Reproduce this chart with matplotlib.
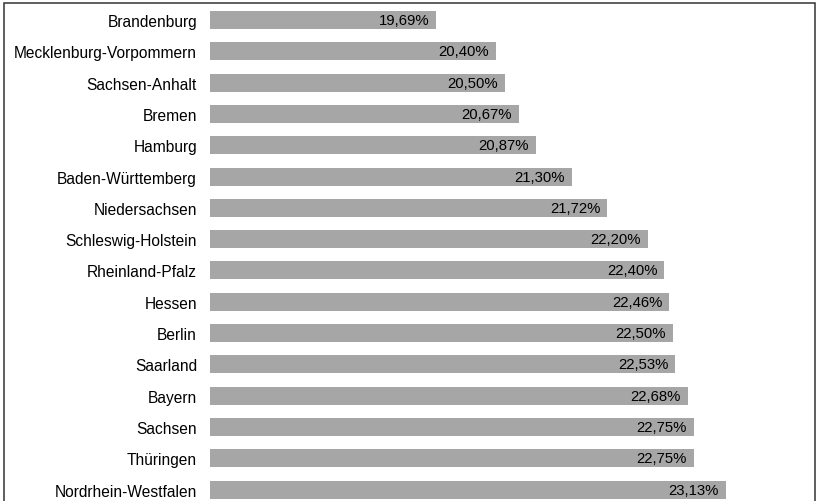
import matplotlib.pyplot as plt
from matplotlib.patches import Rectangle

# share per federal state, sorted ascending
states = ["Brandenburg", "Mecklenburg-Vorpommern", "Sachsen-Anhalt", "Bremen",
          "Hamburg", "Baden-Württemberg", "Niedersachsen", "Schleswig-Holstein",
          "Rheinland-Pfalz", "Hessen", "Berlin", "Saarland", "Bayern",
          "Sachsen", "Thüringen", "Nordrhein-Westfalen"]
values = [19.69, 20.40, 20.50, 20.67, 20.87, 21.30, 21.72, 22.20,
          22.40, 22.46, 22.50, 22.53, 22.68, 22.75, 22.75, 23.13]
base = 17.0

plt.rcParams['font.family'] = ['Liberation Sans', 'DejaVu Sans']

W, H = 816, 502
fig = plt.figure(figsize=(W / 100, H / 100), dpi=100)
ax = fig.add_axes([210 / W, 0, 605 / W, 1])

pos = list(range(len(states)))
ax.barh(pos, [v - base for v in values], left=base, height=0.575,
        color='#a6a6a6', edgecolor='none')

for i, v in enumerate(values):
    ax.annotate(f"{v:.2f}%".replace('.', ','), (v, i), xytext=(-5, 0),
                textcoords='offset points', ha='right', va='center',
                fontsize=10.7, color='#000000')

ax.set_xlim(base, 24.19)
ax.set_ylim(15.367, -0.671)
ax.set_yticks(pos)
ax.set_yticklabels(states, fontsize=11.2, color='#000000')
ax.tick_params(axis='y', length=0, pad=9.4)
ax.set_xticks([])
for s in ax.spines.values():
    s.set_visible(False)

# outer frame
fig.add_artist(Rectangle((4 / W, -0.05), 811 / W, 1.05 - 4 / H,
                         transform=fig.transFigure, fill=False,
                         edgecolor='#333333', linewidth=1.1))

fig.savefig('out.png', dpi=100)
